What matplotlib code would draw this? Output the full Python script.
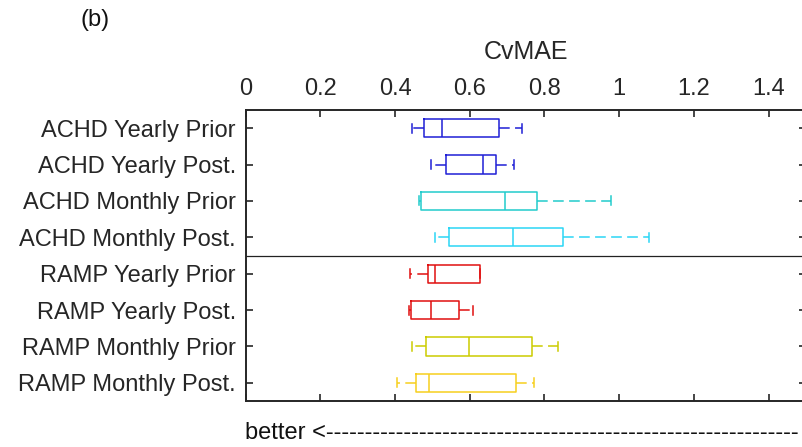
import matplotlib
matplotlib.use("Agg")
import matplotlib.pyplot as plt

plt.rcParams['font.family'] = ['Liberation Sans', 'DejaVu Sans']

labels = ["ACHD Yearly Prior", "ACHD Yearly Post.", "ACHD Monthly Prior", "ACHD Monthly Post.",
          "RAMP Yearly Prior", "RAMP Yearly Post.", "RAMP Monthly Prior", "RAMP Monthly Post."]
whislo = [0.446, 0.496, 0.465, 0.508, 0.439, 0.4375, 0.445, 0.406]
q1     = [0.478, 0.536, 0.470, 0.545, 0.488, 0.444, 0.483, 0.457]
med    = [0.527, 0.635, 0.694, 0.715, 0.508, 0.496, 0.599, 0.492]
q3     = [0.679, 0.671, 0.780, 0.851, 0.628, 0.570, 0.768, 0.724]
whishi = [0.739, 0.719, 0.978, 1.080, 0.628, 0.608, 0.837, 0.773]
colors = ["#1f1fd6", "#1f1fd6", "#22cccc", "#2bd6f5", "#e01010", "#e01010", "#cccc00", "#f7cf1e"]
xticks = [0, 0.2, 0.4, 0.6, 0.8, 1.0, 1.2, 1.4]
xticklabels = ["0", "0.2", "0.4", "0.6", "0.8", "1", "1.2", "1.4"]

fig = plt.figure(figsize=(8.03, 4.47), dpi=100)
W, H = 803, 447
left, right, top, bottom = 245.6, 805.9, 110, 401
ax = fig.add_axes([left / W, 1 - bottom / H, (right - left) / W, (bottom - top) / H])

positions = list(range(1, len(labels) + 1))
for i in range(len(labels)):
    st = [dict(med=med[i], q1=q1[i], q3=q3[i], whislo=whislo[i], whishi=whishi[i], fliers=[])]
    c = colors[i]
    ax.bxp(st, positions=[positions[i]], vert=False, widths=0.5, showfliers=False,
           boxprops=dict(color=c, linewidth=1.1),
           medianprops=dict(color=c, linewidth=1.1),
           whiskerprops=dict(color=c, linewidth=1.1, linestyle=(0, (7, 3.5))),
           capprops=dict(color=c, linewidth=1.1),
           capwidths=0.25, manage_ticks=False)

ax.axhline(4.5, color='#222222', linewidth=0.9)
ax.set_xlim(0, 1.5)
ax.set_ylim(8.5, 0.5)
ax.set_yticks(positions)
ax.set_yticklabels(labels, fontsize=17, color='#262626')
ax.set_xticks(xticks)
ax.set_xticklabels(xticklabels, fontsize=17, color='#262626')
ax.xaxis.tick_top()
ax.xaxis.set_label_position('top')
ax.set_xlabel("CvMAE", fontsize=18, color='#262626', labelpad=14)
ax.tick_params(axis='x', which='both', direction='in', top=True, bottom=True, length=5,
               width=1.2, color='#262626', pad=7)
ax.tick_params(axis='y', which='both', direction='in', left=True, right=True, length=5,
               width=1.2, color='#262626', pad=7)
for s in ax.spines.values():
    s.set_color('#262626')
    s.set_linewidth(1.4)

fig.text(95 / W, 1 - 20 / H, "(b)", fontsize=17, ha='center', va='center', color='#111111')
fig.text(245 / W, 1 - 433 / H, "better <" + "-" * 61, fontsize=17, ha='left', va='center',
         color='#111111')

fig.savefig("out.png", dpi=100)
